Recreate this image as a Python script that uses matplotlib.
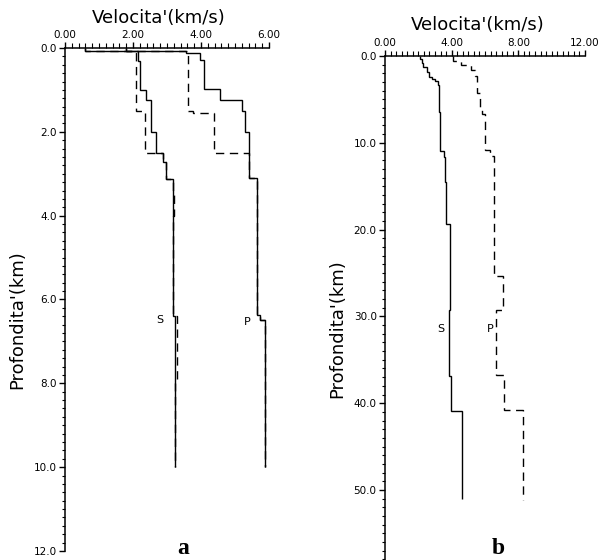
#Import necessary libraries
import numpy as np
import matplotlib.pyplot as plt
from matplotlib.ticker import MultipleLocator, FormatStrFormatter

##################################################
##  Velocity models (layer edges in km, velocity in km/s)
##################################################

# a : S and P, two models (solid / dashed)
a_S1_depth = [0, 0.06, 0.3, 1.0, 1.25, 2.0, 2.51, 2.73, 3.12, 6.4, 10.0]
a_S1_vel = [0.6, 2.14, 2.2, 2.37, 2.53, 2.68, 2.88, 2.98, 3.18, 3.24]
a_S2_depth = [0, 0.08, 1.5, 2.51, 2.73, 3.12, 3.5, 4.0, 6.4, 8.0, 10.0]
a_S2_vel = [0.6, 2.09, 2.34, 2.88, 2.98, 3.18, 3.21, 3.18, 3.28, 3.24]
a_P1_depth = [0, 0.06, 0.11, 0.29, 0.98, 1.25, 1.5, 2.0, 3.11, 6.37, 6.5, 10.0]
a_P1_vel = [1.8, 3.57, 3.96, 4.08, 4.56, 5.2, 5.3, 5.42, 5.66, 5.75, 5.89]
a_P2_depth = [0, 0.08, 1.5, 1.55, 2.51, 3.11, 6.37, 6.5, 10.0]
a_P2_vel = [1.8, 3.62, 3.77, 4.38, 5.42, 5.66, 5.75, 5.89]

# b : S solid, P dashed
b_S_depth = [0, 0.3, 0.85, 1.3, 1.8, 2.4, 2.6, 2.9, 3.3, 6.4, 10.9, 11.6,
             14.5, 19.4, 29.3, 36.9, 40.9, 51.0]
b_S_vel = [2.1, 2.2, 2.29, 2.49, 2.65, 2.79, 2.99, 3.18, 3.24, 3.3, 3.52, 3.6,
           3.68, 3.9, 3.86, 3.95, 4.62]
b_P_depth = [0, 0.6, 1.0, 1.6, 2.3, 4.3, 6.2, 6.7, 10.8, 11.5, 25.4, 29.3,
             36.7, 40.8, 51.2]
b_P_vel = [4.05, 4.55, 5.15, 5.4, 5.51, 5.67, 5.83, 5.97, 6.3, 6.53, 7.1,
           6.63, 7.13, 8.3]

dash = (0, (6, 4))

def setup(ax, xmax, xmaj, xmin, ymax, ymaj, ymin):
    ax.set_xlim(0, xmax)
    ax.set_ylim(ymax, 0)
    ax.xaxis.tick_top()
    ax.spines['right'].set_visible(False)
    ax.spines['bottom'].set_visible(False)
    ax.spines['top'].set_linewidth(1.1)
    ax.spines['left'].set_linewidth(1.1)
    ax.xaxis.set_major_locator(MultipleLocator(xmaj))
    ax.xaxis.set_minor_locator(MultipleLocator(xmin))
    ax.yaxis.set_major_locator(MultipleLocator(ymaj))
    ax.yaxis.set_minor_locator(MultipleLocator(ymin))
    ax.xaxis.set_major_formatter(FormatStrFormatter('%.2f'))
    ax.yaxis.set_major_formatter(FormatStrFormatter('%.1f'))
    ax.tick_params(which='major', direction='out', length=4.5, width=1, labelsize=7.5, pad=1.5)
    ax.tick_params(which='minor', direction='out', length=2.5, width=0.8)
    ax.tick_params(axis='x', which='minor', length=3.5)
    ax.patch.set_visible(False)

fig = plt.figure(figsize=(6, 5.6), dpi=100)

##################################################
##  a
##################################################
ax1 = fig.add_axes([0.1083, 0.0161, 0.34, 0.8982])
setup(ax1, 6, 2, 0.2, 12, 2, 0.2)
ax1.stairs(a_S1_vel, a_S1_depth, orientation='horizontal', baseline=None, color='k', lw=1)
ax1.stairs(a_P1_vel, a_P1_depth, orientation='horizontal', baseline=None, color='k', lw=1)
ax1.stairs(a_S2_vel, a_S2_depth, orientation='horizontal', baseline=None, color='k', lw=1, linestyle=dash)
ax1.stairs(a_P2_vel, a_P2_depth, orientation='horizontal', baseline=None, color='k', lw=1, linestyle=dash)
ax1.text(2.78, 6.5, 'S', fontsize=8, ha='center', va='center')
ax1.text(5.36, 6.54, 'P', fontsize=8, ha='center', va='center')

##################################################
##  b
##################################################
ax2 = fig.add_axes([0.6417, 0.001, 0.3333, 0.899])
setup(ax2, 12, 4, 4/12, 58, 10, 1)
ax2.stairs(b_S_vel, b_S_depth, orientation='horizontal', baseline=None, color='k', lw=1)
ax2.stairs(b_P_vel, b_P_depth, orientation='horizontal', baseline=None, color='k', lw=1, linestyle=dash)
ax2.text(3.34, 31.5, 'S', fontsize=8, ha='center', va='center')
ax2.text(6.33, 31.4, 'P', fontsize=8, ha='center', va='center')

# axis titles and panel letters
fig.text(159/600, 1-18/560, "Velocita'(km/s)", fontsize=13, ha='center', va='center')
fig.text(478/600, 1-25/560, "Velocita'(km/s)", fontsize=13, ha='center', va='center')
fig.text(17/600, 1-320/560, "Profondita'(km)", fontsize=13, ha='center', va='center', rotation=90)
fig.text(337/600, 1-329/560, "Profondita'(km)", fontsize=13, ha='center', va='center', rotation=90)
fig.text(183/600, 1-548/560, 'a', fontsize=17, fontweight='bold', family='Liberation Serif', ha='center', va='center')
fig.text(498/600, 1-548/560, 'b', fontsize=17, fontweight='bold', family='Liberation Serif', ha='center', va='center')

plt.savefig('out.png', dpi=100)
